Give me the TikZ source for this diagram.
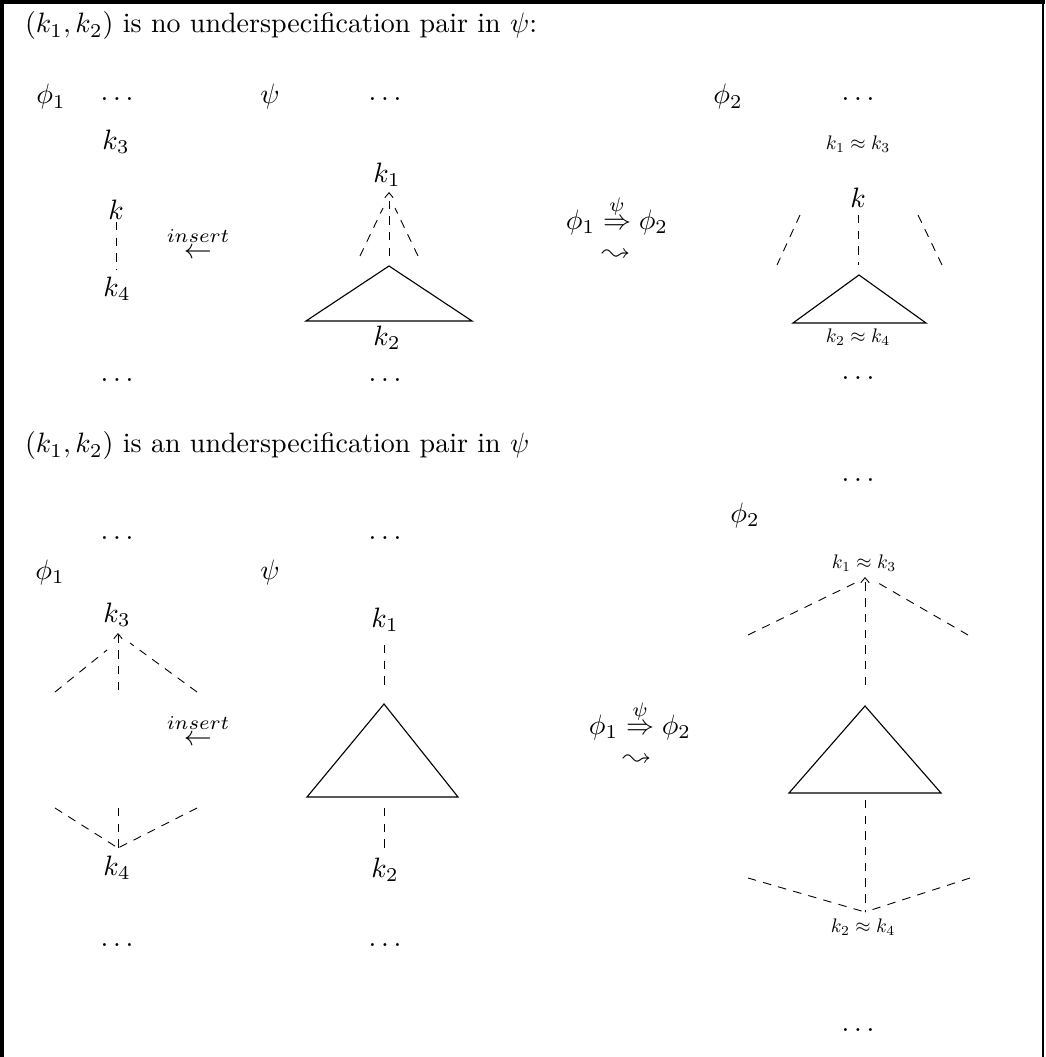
\documentclass[tikz,border=0pt]{standalone}
\usepackage{latexsym}
\usetikzlibrary{arrows.meta}
\tikzset{
  lbl/.style={inner sep=0pt, outer sep=0pt},
  sml/.style={inner sep=0pt, outer sep=0pt, scale=0.7},
  dl/.style={dash pattern=on 3pt off 2.6pt, line width=0.32pt},
  dla/.style={dl, -{Straight Barb[length=1.8pt,width=3pt]}},
  tri/.style={line width=0.4pt},
  framel/.style={line width=1.4pt},
  framer/.style={line width=0.6pt}
}
\begin{document}
\begin{tikzpicture}[x=0.357pt,y=-0.357pt]
\useasboundingbox (0,0) rectangle (1045,1057);
% frame
\coordinate (ftl) at (2,2);
\coordinate (ftr) at (1045,2);
\coordinate (fbl) at (2,1057);
\coordinate (fr1) at (1043,0);
\coordinate (fr2) at (1043,1057);
\draw[framel] (ftr) -- (ftl) -- (fbl);
\draw[framer] (fr1) -- (fr2);

%%%%%%%%%%%%%%%% Row 1
\node[lbl, anchor=base west] (title1) at (25,33) {$(k_1,k_2)$ is no underspecification pair in $\psi$:};
\node[lbl] (phi1a) at (51,97) {$\phi_1$};
\node[lbl] (dA1) at (117,99) {$\ldots$};
\node[lbl] (psia) at (270,97) {$\psi$};
\node[lbl] (dA2) at (385,99) {$\ldots$};
\node[lbl] (phi2a) at (728,97) {$\phi_2$};
\node[lbl] (dA3) at (858,99) {$\ldots$};

% left tree
\node[lbl] (k3a) at (116,142) {$k_3$};
\node[lbl] (ka) at (116,210) {$k$};
\node[lbl] (k4a) at (117,289) {$k_4$};
\coordinate (la1) at (116,222);
\coordinate (la2) at (116,270);
\draw[dl] (la1) -- (la2);
\node[lbl] (insa) at (198,243) {$\stackrel{insert}{\leftarrow}$};
\node[lbl] (dA4) at (117,380) {$\ldots$};

% psi tree
\node[lbl] (k1b) at (387,175) {$k_1$};
\coordinate (pa0) at (389,192);
\coordinate (pa1) at (389,256);
\coordinate (pal1) at (360,256);
\coordinate (pal2) at (383,208);
\coordinate (par1) at (418,256);
\coordinate (par2) at (395,208);
\draw[dla] (pa1) -- (pa0);
\draw[dl] (pal1) -- (pal2);
\draw[dl] (par1) -- (par2);
\coordinate (pt1) at (389,266);
\coordinate (pt2) at (306,321);
\coordinate (pt3) at (472,321);
\draw[tri] (pt1) -- (pt2) -- (pt3) -- cycle;
\node[lbl] (k2b) at (387,338) {$k_2$};
\node[lbl] (dA5) at (385,380) {$\ldots$};

% rule
\node[lbl] (rule1) at (617,215) {$\phi_1 \stackrel{\psi}{\Rightarrow} \phi_2$};
\node[lbl] (lt1) at (616,255) {$\leadsto$};

% right tree
\node[sml] (k13a) at (858,144) {$k_1\approx k_3$};
\node[lbl] (kc) at (858,198) {$k$};
\coordinate (rv1) at (858,215);
\coordinate (rv2) at (858,265);
\coordinate (rl1) at (800,215);
\coordinate (rl2) at (777,265);
\coordinate (rr1) at (918,215);
\coordinate (rr2) at (942,265);
\draw[dl] (rv1) -- (rv2);
\draw[dl] (rl1) -- (rl2);
\draw[dl] (rr1) -- (rr2);
\coordinate (rt1) at (859,275);
\coordinate (rt2) at (793,323);
\coordinate (rt3) at (926,323);
\draw[tri] (rt1) -- (rt2) -- (rt3) -- cycle;
\node[sml] (k24a) at (858,337) {$k_2\approx k_4$};
\node[lbl] (dA6) at (858,378) {$\ldots$};

%%%%%%%%%%%%%%%% Row 2
\node[lbl, anchor=base west] (title2) at (25,453) {$(k_1,k_2)$ is an underspecification pair in $\psi$};
\node[lbl] (dB1) at (858,480) {$\ldots$};
\node[lbl] (phi2b) at (745,515) {$\phi_2$};
\node[lbl] (dB2) at (117,538) {$\ldots$};
\node[lbl] (dB3) at (385,538) {$\ldots$};
\node[lbl] (phi1b) at (50,572) {$\phi_1$};
\node[lbl] (psib) at (270,572) {$\psi$};

% left tree
\node[lbl] (k3b) at (117,615) {$k_3$};
\coordinate (lb0) at (118,633);
\coordinate (lbv) at (118,690);
\coordinate (lbl1) at (55,692);
\coordinate (lbl2) at (107,650);
\coordinate (lbr1) at (197,692);
\coordinate (lbr2) at (130,643);
\draw[dla] (lbv) -- (lb0);
\draw[dl] (lbl1) -- (lbl2);
\draw[dl] (lbr1) -- (lbr2);
\node[lbl] (insb) at (198,730) {$\stackrel{insert}{\leftarrow}$};
\coordinate (lc0) at (118,848);
\coordinate (lcv) at (118,808);
\coordinate (lcl) at (55,808);
\coordinate (lcr) at (197,808);
\draw[dl] (lcl) -- (lc0);
\draw[dl] (lcr) -- (lc0);
\draw[dl] (lcv) -- (lc0);
\node[lbl] (k4b) at (117,868) {$k_4$};
\node[lbl] (dB4) at (117,945) {$\ldots$};

% psi tree
\node[lbl] (k1c) at (385,620) {$k_1$};
\coordinate (qv1) at (384,645);
\coordinate (qv2) at (384,690);
\draw[dl] (qv1) -- (qv2);
\coordinate (qt1) at (384,704);
\coordinate (qt2) at (307,797);
\coordinate (qt3) at (458,797);
\draw[tri] (qt1) -- (qt2) -- (qt3) -- cycle;
\coordinate (qv3) at (384,808);
\coordinate (qv4) at (384,848);
\draw[dl] (qv3) -- (qv4);
\node[lbl] (k2c) at (385,870) {$k_2$};
\node[lbl] (dB5) at (385,945) {$\ldots$};

% rule
\node[lbl] (rule2) at (640,720) {$\phi_1 \stackrel{\psi}{\Rightarrow} \phi_2$};
\node[lbl] (lt2) at (637,760) {$\leadsto$};

% right tree
\node[sml] (k13b) at (864,563) {$k_1\approx k_3$};
\coordinate (sa0) at (865,577);
\coordinate (sav) at (865,685);
\coordinate (sal1) at (748,635);
\coordinate (sal2) at (855,583);
\coordinate (sar1) at (968,635);
\coordinate (sar2) at (873,580);
\draw[dla] (sav) -- (sa0);
\draw[dl] (sal1) -- (sal2);
\draw[dl] (sar1) -- (sar2);
\coordinate (st1) at (865,706);
\coordinate (st2) at (789,793);
\coordinate (st3) at (941,793);
\draw[tri] (st1) -- (st2) -- (st3) -- cycle;
\coordinate (sb0) at (865,912);
\coordinate (sbv) at (865,800);
\coordinate (sbl) at (748,878);
\coordinate (sbr) at (970,878);
\draw[dl] (sbv) -- (sb0);
\draw[dl] (sbl) -- (sb0);
\draw[dl] (sbr) -- (sb0);
\node[sml] (k24b) at (863,927) {$k_2\approx k_4$};
\node[lbl] (dB6) at (858,1030) {$\ldots$};
\end{tikzpicture}
\end{document}
